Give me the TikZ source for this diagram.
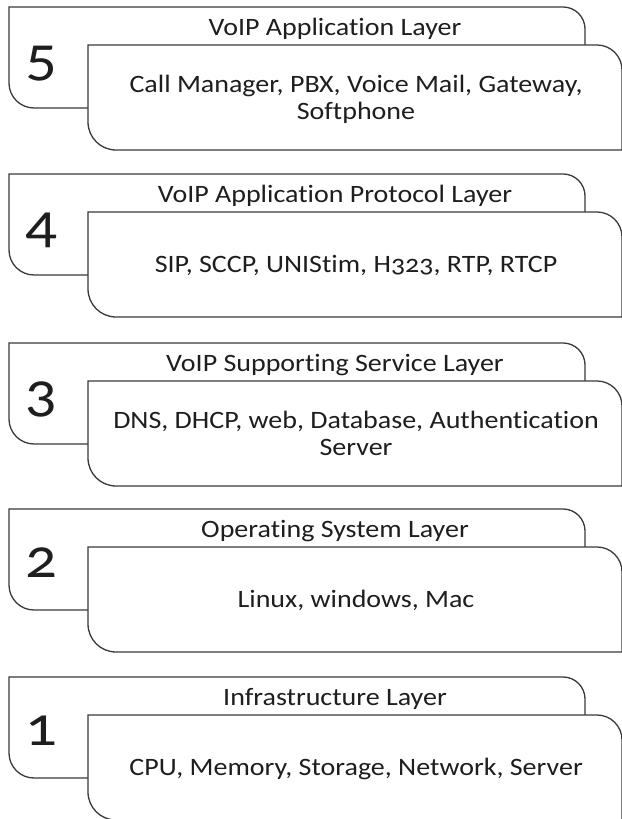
\documentclass[tikz,border=0pt]{standalone}
\usepackage{fontspec}
\setmainfont{Carlito}[Numbers=OldStyle, FakeStretch=1.12, RawFeature={-liga;-clig;-calt;-dlig}]
\definecolor{edge}{HTML}{3A3A3A}
\definecolor{ink}{HTML}{1E1E1E}
\newcommand\nolti{t\kern0pt i}
\tikzset{
  layerbox/.style={draw=edge, line width=1.3pt, fill=white},
  titletext/.style={text=ink, font=\fontsize{25}{30}\selectfont, anchor=base, inner sep=0pt},
  bodytext/.style={text=ink, font=\fontsize{25}{27.5}\selectfont, anchor=base, align=center, inner sep=0pt},
  numtext/.style={text=ink, font=\fontsize{56}{60}\selectfont, anchor=base, inner sep=0pt}
}
% #1 top (px from top), #2 number, #3 title, #4 body baseline of last line (relative), #5 body, #6 id
\newcommand\drawlayer[6]{%
  \begin{scope}[shift={(0,819-#1)}]
    \draw[layerbox] (9,0) -- (563,0) arc[start angle=90, end angle=0, radius=22]
      -- (585,-101) -- (34,-101) arc[start angle=270, end angle=180, radius=25] -- cycle;
    \draw[layerbox] (88,-38) -- (597,-38) arc[start angle=90, end angle=0, radius=25]
      -- (622,-143) -- (116,-143) arc[start angle=270, end angle=180, radius=28] -- cycle;
    \node[numtext] (num#6) at (41,-69) {#2};
    \node[titletext] (title#6) at (335,-29) {#3};
    \node[bodytext] (body#6) at (356,#4) {#5};
  \end{scope}}
\begin{document}
\begin{tikzpicture}[x=1pt, y=1pt]
  \useasboundingbox (0,0) rectangle (621,819);
  \fill[white] (0,0) rectangle (621,819);
  \drawlayer{7}{5}{VoIP Applica\nolti on Layer}{-113}{Call Manager, PBX, Voice Mail, Gateway,\\Softphone}{A}
  \drawlayer{174}{4}{VoIP Applica\nolti on Protocol Layer}{-99}{SIP, SCCP, UNIStim, H323, RTP, RTCP}{B}
  \drawlayer{343}{3}{VoIP Supporting Service Layer}{-113}{DNS, DHCP, web, Database, Authen\nolti ca\nolti on\\Server}{C}
  \drawlayer{509}{2}{Operating System Layer}{-99}{Linux, windows, Mac}{D}
  \drawlayer{677}{1}{Infrastructure Layer}{-99}{CPU, Memory, Storage, Network, Server}{E}
\end{tikzpicture}
\end{document}
